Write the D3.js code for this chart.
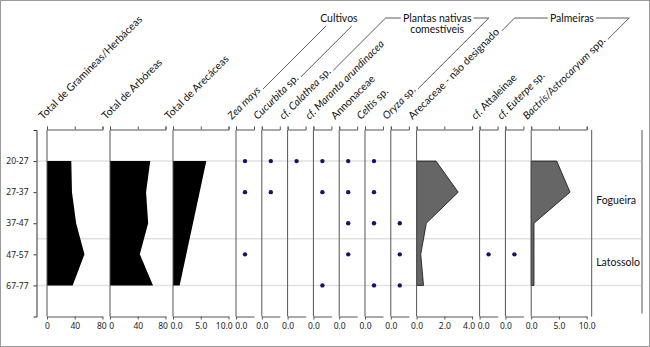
<!DOCTYPE html>
<html>
<head>
<meta charset="utf-8">
<script src="https://cdn.jsdelivr.net/npm/d3@7"></script>
<style>
  body { margin: 0; background: #fff; }
  svg { display: block; }
  .tick text { font-family: "Noto Sans", sans-serif; font-size: 8.5px; fill: #222; }
  .head { font-family: Lato, sans-serif; font-size: 10.5px; fill: #111; }
</style>
</head>
<body>
<div id="chart"></div>
<script>
// samples (depth in cm)
const samples = ["20-27", "27-37", "37-47", "47-57", "67-77"];

// percentages / counts
const gramineas = [35, 36, 42, 54, 37];
const arboreas = [58, 52, 55, 43, 62];
const arecaceas = [6.0, 4.8, 3.6, 2.4, 1.2];
const arecaceaeND = [1.4, 3.0, 0.7, 0.3, 0.5];
const bactris = [4.6, 7.0, 0.5, 0.5, 0.5];

// presence (1) / absence (0)
const zeaMays = [1, 1, 0, 1, 0];
const cucurbita = [1, 1, 0, 0, 0];
const calathea = [1, 0, 0, 0, 0];
const maranta = [1, 1, 0, 0, 1];
const annonaceae = [1, 1, 1, 1, 0];
const celtis = [1, 1, 1, 0, 1];
const oryza = [0, 0, 1, 1, 1];
const attaleinae = [0, 0, 0, 1, 0];
const euterpe = [0, 0, 0, 1, 0];

// tick labels
const ticksTotal = [0, 40, 80];
const ticksTen = [0, 5, 10];
const ticksFour = [0, 2, 4];
const ticksZero = [0];

// zones (last sample of each zone)
const zoneNames = ["Fogueira", "Latossolo"];
const zoneLast = ["37-47", "67-77"];

// group headers: first and last taxon under each bracket
const groupNames = [["Cultivos"], ["Plantas nativas", "comestíveis"], ["Palmeiras"]];
const groupFirst = [3, 5, 10];
const groupLast = [4, 9, 13];

// *text* = italic
const panels = [
    { label: "Total de Gramíneas/Herbáceas", values: gramineas, kind: "area", max: 80, ticks: ticksTotal, fmt: "d", fill: "#000" },
    { label: "Total de Arbóreas", values: arboreas, kind: "area", max: 80, ticks: ticksTotal, fmt: "d", fill: "#000" },
    { label: "Total de Arecáceas", values: arecaceas, kind: "area", max: 10, ticks: ticksTen, fmt: ".1f", fill: "#000" },
    { label: "*Zea mays*", values: zeaMays, kind: "dot" },
    { label: "*Cucurbita* sp.", values: cucurbita, kind: "dot" },
    { label: "*cf. Calathea* sp.", values: calathea, kind: "dot" },
    { label: "*cf. Maranta arundinacea*", values: maranta, kind: "dot" },
    { label: "Annonaceae", values: annonaceae, kind: "dot" },
    { label: "*Celtis* sp.", values: celtis, kind: "dot" },
    { label: "*Oryza* sp.", values: oryza, kind: "dot" },
    { label: "Arecaceae - não designado", values: arecaceaeND, kind: "area", max: 4, ticks: ticksFour, fmt: ".1f", fill: "#666" },
    { label: "*cf.* Attaleinae", values: attaleinae, kind: "dot" },
    { label: "*cf. Euterpe* sp.", values: euterpe, kind: "dot" },
    { label: "*Bactris/Astrocaryum* spp.", values: bactris, kind: "area", max: 10, ticks: ticksTen, fmt: ".1f", fill: "#666" }
];

const width = 650,
      height = 347,
      margin = ({ top: 130, bottom: 316.5, left: 36.5, start: 47 });

const bigW = 55.5, smallW = 18, bigGap = 7.5, smallGap = 7.8;

let svg = d3.select("#chart")
    .append("svg")
    .attr("width", width)
    .attr("height", height);

// frame
svg.append("rect")
    .attr("x", 0.5).attr("y", 0.5)
    .attr("width", width - 1).attr("height", height - 1)
    .attr("fill", "none").attr("stroke", "#9a9a9a");

let y = d3.scalePoint()
    .domain(samples)
    .range([margin.top, margin.bottom])
    .padding(1);

// panel positions
let pos = margin.start;
panels.forEach(p => {
    p.w = p.kind == "area" ? bigW : smallW;
    p.x = d3.scaleLinear()
        .domain([0, p.kind == "area" ? p.max : 1])
        .range([pos, pos + p.w]);
    pos += p.w + (p.kind == "area" ? bigGap : smallGap);
});
const plotRight = panels[panels.length - 1].x.range()[1];
const zoneX = plotRight + 5;
const rightEdge = 642;

// zone guide lines
const zoneBreak = (y(zoneLast[0]) + y(samples[samples.indexOf(zoneLast[0]) + 1])) / 2;
const guideYs = [y(samples[0]), zoneBreak, y(samples[samples.length - 1])];
svg.append("g")
    .selectAll("line")
    .data(guideYs)
    .join("line")
    .attr("x1", margin.left).attr("x2", rightEdge - 1)
    .attr("y1", d => d).attr("y2", d => d)
    .attr("stroke", "#e2e2e2")
    .attr("stroke-width", 1.5);

// y axis
let yAxis = svg.append("g")
    .attr("transform", `translate(${margin.left},0)`)
    .call(d3.axisLeft(y).tickSize(3).tickSizeOuter(3).tickPadding(5));
yAxis.select(".domain").attr("stroke", "#333");
yAxis.selectAll(".tick line").attr("stroke", "#333");

// panels
panels.forEach(p => {
    let g = svg.append("g");

    if (p.kind == "area") {
        let area = d3.area()
            .x0(p.x(0))
            .x1(d => p.x(d))
            .y((d, i) => y(samples[i]));
        g.append("path")
            .datum(p.values)
            .attr("d", area)
            .attr("fill", p.fill)
            .attr("stroke", p.fill == "#000" ? "none" : "#111")
            .attr("stroke-width", 0.8);
    } else {
        g.selectAll("circle")
            .data(samples.filter((s, i) => p.values[i] == 1))
            .join("circle")
            .attr("cx", p.x(0.5))
            .attr("cy", d => y(d))
            .attr("r", 2.2)
            .attr("fill", "#16146a");
    }

    // vertical baseline
    g.append("line")
        .attr("x1", p.x(0)).attr("x2", p.x(0))
        .attr("y1", margin.top).attr("y2", margin.bottom)
        .attr("stroke", "#555");

    let ticks = p.kind == "area" ? p.ticks : ticksZero;

    let topAxis = g.append("g")
        .attr("transform", `translate(0,${margin.top - 0.5})`)
        .call(d3.axisTop(p.x).tickValues(ticks).tickSize(3).tickSizeOuter(3).tickFormat(""));
    topAxis.selectAll("path, line").attr("stroke", "#555");

    let botAxis = g.append("g")
        .attr("class", "bot")
        .attr("transform", `translate(0,${margin.bottom})`)
        .call(d3.axisBottom(p.x).tickValues(ticks).tickSize(3).tickSizeOuter(0)
            .tickFormat(d3.format(p.kind == "area" ? p.fmt : ".1f")));
    botAxis.selectAll("path, line").attr("stroke", "#555");

    // rotated header label
    let lx = p.x(0) - 4, ly = 120;
    let t = svg.append("text")
        .attr("class", "head")
        .attr("transform", `translate(${lx},${ly}) rotate(-45)`);
    p.label.split("*").forEach((part, i) => {
        if (part.length) t.append("tspan").text(part).style("font-style", i % 2 ? "italic" : "normal");
    });
    let len = t.node().getComputedTextLength() + 2.5;
    p.endX = lx + len * Math.SQRT1_2;
    p.endY = ly - len * Math.SQRT1_2;
});

// push crowded bottom tick labels apart
let labels = svg.selectAll(".bot .tick text").nodes().map(n => {
    let r = n.getBoundingClientRect();
    return { node: n, left: r.left, right: r.right, shift: 0 };
}).sort((a, b) => a.left - b.left);
for (let k = 0; k < 20; k++) {
    for (let i = 0; i < labels.length - 1; i++) {
        let a = labels[i], b = labels[i + 1];
        let overlap = (a.right + a.shift) + 2.5 - (b.left + b.shift);
        if (overlap > 0) {
            a.shift -= overlap / 2;
            b.shift += overlap / 2;
        }
    }
}
labels.forEach(l => d3.select(l.node).attr("x", l.shift));

// zone column
svg.append("line")
    .attr("x1", zoneX).attr("x2", zoneX)
    .attr("y1", margin.top).attr("y2", margin.bottom)
    .attr("stroke", "#555");
svg.append("line")
    .attr("x1", rightEdge).attr("x2", rightEdge)
    .attr("y1", margin.top).attr("y2", margin.bottom - 3)
    .attr("stroke", "#555");

const zoneTops = [y(samples[0]), zoneBreak];
const zoneBots = [zoneBreak, y(samples[samples.length - 1])];
svg.selectAll(".zone")
    .data(zoneNames)
    .join("text")
    .attr("class", "head zone")
    .attr("x", zoneX + 4.5)
    .attr("y", (d, i) => (zoneTops[i] + zoneBots[i]) / 2)
    .attr("dy", "0.35em")
    .text(d => d);

// group brackets
groupNames.forEach((lines, gi) => {
    let a = panels[groupFirst[gi]], b = panels[groupLast[gi]];
    let lineY = lines.length == 1 && gi == 0 ? 26 : 18;
    let xL = a.endX + (a.endY - lineY), xR = b.endX + (b.endY - lineY);
    let cx = (xL + xR) / 2;

    let txt = svg.append("text")
        .attr("class", "head")
        .attr("text-anchor", "middle");
    lines.forEach((l, i) => txt.append("tspan").attr("x", cx).attr("y", 21.5 + i * 11).text(l));

    let first = txt.select("tspan").node().getComputedTextLength();
    let path = d3.path();
    path.moveTo(a.endX, a.endY);
    path.lineTo(xL, lineY);
    if (xL < cx - first / 2 - 2) path.lineTo(cx - first / 2 - 2, lineY);
    path.moveTo(b.endX, b.endY);
    path.lineTo(xR, lineY);
    if (xR > cx + first / 2 + 2) path.lineTo(cx + first / 2 + 2, lineY);
    svg.append("path")
        .attr("d", path.toString())
        .attr("fill", "none")
        .attr("stroke", "#333")
        .attr("stroke-width", 0.8);
});
</script>
</body>
</html>
